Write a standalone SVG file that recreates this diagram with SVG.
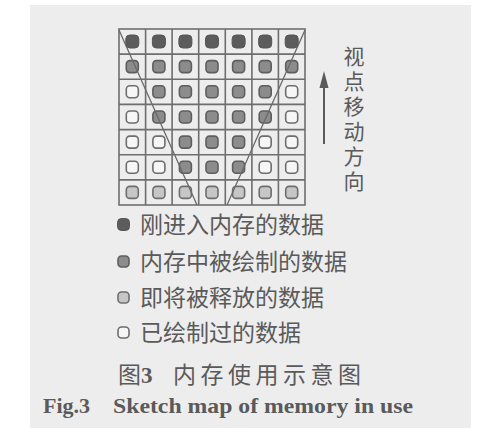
<svg xmlns="http://www.w3.org/2000/svg" width="479" height="429" viewBox="0 0 479 429">
<defs>
<style>
.bg{fill:#ededed}
.grid{fill:none;stroke:#6e6e6e;stroke-width:1.6}
.vline{stroke:#6a6a6a;stroke-width:1.3;fill:none}
.D{fill:#5c5c5c;stroke:#555;stroke-width:1}
.M{fill:#8c8c8c;stroke:#5e5e5e;stroke-width:1.6}
.L{fill:#c6c6c6;stroke:#6e6e6e;stroke-width:1.6}
.W{fill:#f6f6f6;stroke:#6e6e6e;stroke-width:1.6}
.cjk{font-family:"Noto Sans CJK SC","Noto Sans",sans-serif;fill:#5a5a5a}
.en{font-family:"Liberation Serif",serif;font-weight:bold;fill:#5a5a5a}
</style>
</defs>
<rect x="0" y="0" width="479" height="429" fill="#ffffff"/>
<rect class="bg" x="30" y="5" width="441" height="423"/>
<g id="grid">
<rect class="grid" x="119" y="29" width="186" height="176"/>
<path class="grid" d="M145.6 29V205M172.1 29V205M198.7 29V205M225.3 29V205M251.9 29V205M278.4 29V205M119 54.1H305M119 79.3H305M119 104.4H305M119 129.6H305M119 154.7H305M119 179.9H305"/>
</g>
<g id="cells">
<!-- row 0 -->
<rect class="D" x="125.8" y="35" width="13" height="13" rx="4"/>
<rect class="D" x="152.4" y="35" width="13" height="13" rx="4"/>
<rect class="D" x="178.9" y="35" width="13" height="13" rx="4"/>
<rect class="D" x="205.5" y="35" width="13" height="13" rx="4"/>
<rect class="D" x="232.1" y="35" width="13" height="13" rx="4"/>
<rect class="D" x="258.7" y="35" width="13" height="13" rx="4"/>
<rect class="D" x="285.2" y="35" width="13" height="13" rx="4"/>
<!-- row 1 -->
<rect class="M" x="126.3" y="60.6" width="12" height="12" rx="3.5"/>
<rect class="M" x="152.9" y="60.6" width="12" height="12" rx="3.5"/>
<rect class="M" x="179.4" y="60.6" width="12" height="12" rx="3.5"/>
<rect class="M" x="206" y="60.6" width="12" height="12" rx="3.5"/>
<rect class="M" x="232.6" y="60.6" width="12" height="12" rx="3.5"/>
<rect class="M" x="259.2" y="60.6" width="12" height="12" rx="3.5"/>
<rect class="M" x="285.7" y="60.6" width="12" height="12" rx="3.5"/>
<!-- row 2 -->
<rect class="W" x="126.3" y="85.8" width="12" height="12" rx="3.5"/>
<rect class="M" x="152.9" y="85.8" width="12" height="12" rx="3.5"/>
<rect class="M" x="179.4" y="85.8" width="12" height="12" rx="3.5"/>
<rect class="M" x="206" y="85.8" width="12" height="12" rx="3.5"/>
<rect class="M" x="232.6" y="85.8" width="12" height="12" rx="3.5"/>
<rect class="M" x="259.2" y="85.8" width="12" height="12" rx="3.5"/>
<rect class="W" x="285.7" y="85.8" width="12" height="12" rx="3.5"/>
<!-- row 3 -->
<rect class="W" x="126.3" y="111" width="12" height="12" rx="3.5"/>
<rect class="M" x="152.9" y="111" width="12" height="12" rx="3.5"/>
<rect class="M" x="179.4" y="111" width="12" height="12" rx="3.5"/>
<rect class="M" x="206" y="111" width="12" height="12" rx="3.5"/>
<rect class="M" x="232.6" y="111" width="12" height="12" rx="3.5"/>
<rect class="M" x="259.2" y="111" width="12" height="12" rx="3.5"/>
<rect class="W" x="285.7" y="111" width="12" height="12" rx="3.5"/>
<!-- row 4 -->
<rect class="W" x="126.3" y="136.1" width="12" height="12" rx="3.5"/>
<rect class="W" x="152.9" y="136.1" width="12" height="12" rx="3.5"/>
<rect class="M" x="179.4" y="136.1" width="12" height="12" rx="3.5"/>
<rect class="M" x="206" y="136.1" width="12" height="12" rx="3.5"/>
<rect class="M" x="232.6" y="136.1" width="12" height="12" rx="3.5"/>
<rect class="W" x="259.2" y="136.1" width="12" height="12" rx="3.5"/>
<rect class="W" x="285.7" y="136.1" width="12" height="12" rx="3.5"/>
<!-- row 5 -->
<rect class="W" x="126.3" y="161.3" width="12" height="12" rx="3.5"/>
<rect class="W" x="152.9" y="161.3" width="12" height="12" rx="3.5"/>
<rect class="M" x="179.4" y="161.3" width="12" height="12" rx="3.5"/>
<rect class="M" x="206" y="161.3" width="12" height="12" rx="3.5"/>
<rect class="M" x="232.6" y="161.3" width="12" height="12" rx="3.5"/>
<rect class="W" x="259.2" y="161.3" width="12" height="12" rx="3.5"/>
<rect class="W" x="285.7" y="161.3" width="12" height="12" rx="3.5"/>
<!-- row 6 -->
<rect class="L" x="126.3" y="186.4" width="12" height="12" rx="3.5"/>
<rect class="L" x="152.9" y="186.4" width="12" height="12" rx="3.5"/>
<rect class="L" x="179.4" y="186.4" width="12" height="12" rx="3.5"/>
<rect class="L" x="206" y="186.4" width="12" height="12" rx="3.5"/>
<rect class="L" x="232.6" y="186.4" width="12" height="12" rx="3.5"/>
<rect class="L" x="259.2" y="186.4" width="12" height="12" rx="3.5"/>
<rect class="L" x="285.7" y="186.4" width="12" height="12" rx="3.5"/>
</g>
<g id="connectors">
<path class="vline" d="M119 30L197 205M305 30L227 205"/>
<line x1="324" y1="144" x2="324" y2="84" stroke="#5a5a5a" stroke-width="2"/>
<polygon points="324,71 319.5,88 328.5,88" fill="#5a5a5a"/>
</g>
<g id="direction-label">
<text class="cjk" x="354" y="46" font-size="21" letter-spacing="4" style="writing-mode:vertical-rl">视点移动方向</text>
</g>
<g id="legend">
<rect class="D" x="117.5" y="218.5" width="12" height="12" rx="4"/>
<text class="cjk" x="140" y="233" font-size="23">刚进入内存的数据</text>
<rect class="M" x="118" y="256" width="11" height="11" rx="3.5"/>
<text class="cjk" x="140" y="270" font-size="23">内存中被绘制的数据</text>
<rect class="L" x="118" y="292" width="11" height="11" rx="3.5"/>
<text class="cjk" x="140" y="306" font-size="23">即将被释放的数据</text>
<rect class="W" x="118" y="327" width="11" height="11" rx="3.5"/>
<text class="cjk" x="140" y="341" font-size="23">已绘制过的数据</text>
</g>
<g id="caption">
<text class="cjk" x="118" y="383" font-size="23">图<tspan class="en" font-size="23">3</tspan></text>
<text class="cjk" x="173" y="383" font-size="23" letter-spacing="4.5">内存使用示意图</text>
<text class="en" y="413" font-size="22"><tspan x="43">Fig.3</tspan><tspan x="113" textLength="300" lengthAdjust="spacingAndGlyphs">Sketch map of memory in use</tspan></text>
</g>
</svg>
